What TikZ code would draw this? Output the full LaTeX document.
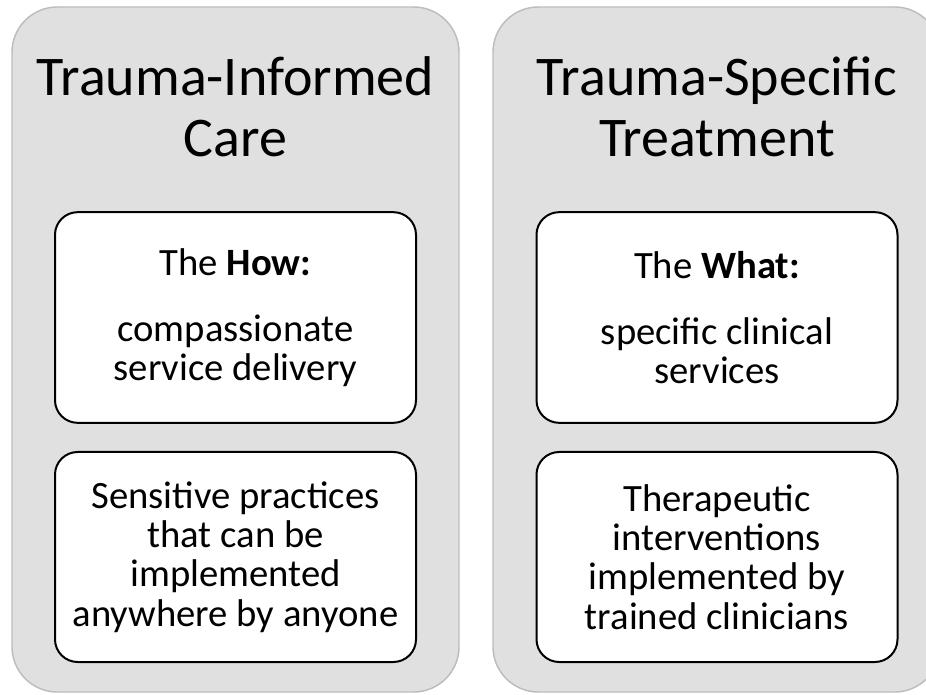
\documentclass[tikz,border=0pt]{standalone}
\usepackage{fontspec}
\setmainfont{Carlito}
\definecolor{panelfill}{HTML}{E0E0E0}
\definecolor{panelline}{HTML}{BDBDBD}
\begin{document}
\begin{tikzpicture}[x=0.75pt,y=-0.75pt,
  panel/.style={draw=panelline, fill=panelfill, line width=1.1pt, rounded corners=34pt},
  card/.style={draw=black, fill=white, line width=1.5pt, rounded corners=17pt,
    minimum width=270.75pt, minimum height=158pt, align=center, inner sep=0pt,
    font=\fontsize{29}{29.5}\selectfont},
  heading/.style={align=center, font=\fontsize{42}{46}\selectfont}]
\useasboundingbox (0,0) rectangle (926,695);
\clip (0,0) rectangle (926,695);
\fill[white] (0,0) rectangle (926,695);

% two columns
\draw[panel] (12,7) rectangle (459,692);
\draw[panel] (493,7) rectangle (940,692);

% left column
\node[heading] (infTitle) at (235.5,107) {Trauma-Informed\\Care};
\node[card] (infHow) at (235.5,317.5) {The \textbf{How:}\\[20pt]compassionate\\service delivery};
\node[card, minimum height=157.5pt] (infWho) at (235.5,557) {Sensitive practices\\that can be\\implemented\\anywhere by anyone};

% right column
\node[heading] (specTitle) at (717,107) {Trauma-Specific\\Treatment};
\node[card] (specWhat) at (717,317.5) {The \textbf{What:}\\[20pt]specific clinical\\services};
\node[card, minimum height=157.5pt] (specWho) at (717,557) {Therapeutic\\interventions\\implemented by\\trained clinicians};
\end{tikzpicture}
\end{document}
